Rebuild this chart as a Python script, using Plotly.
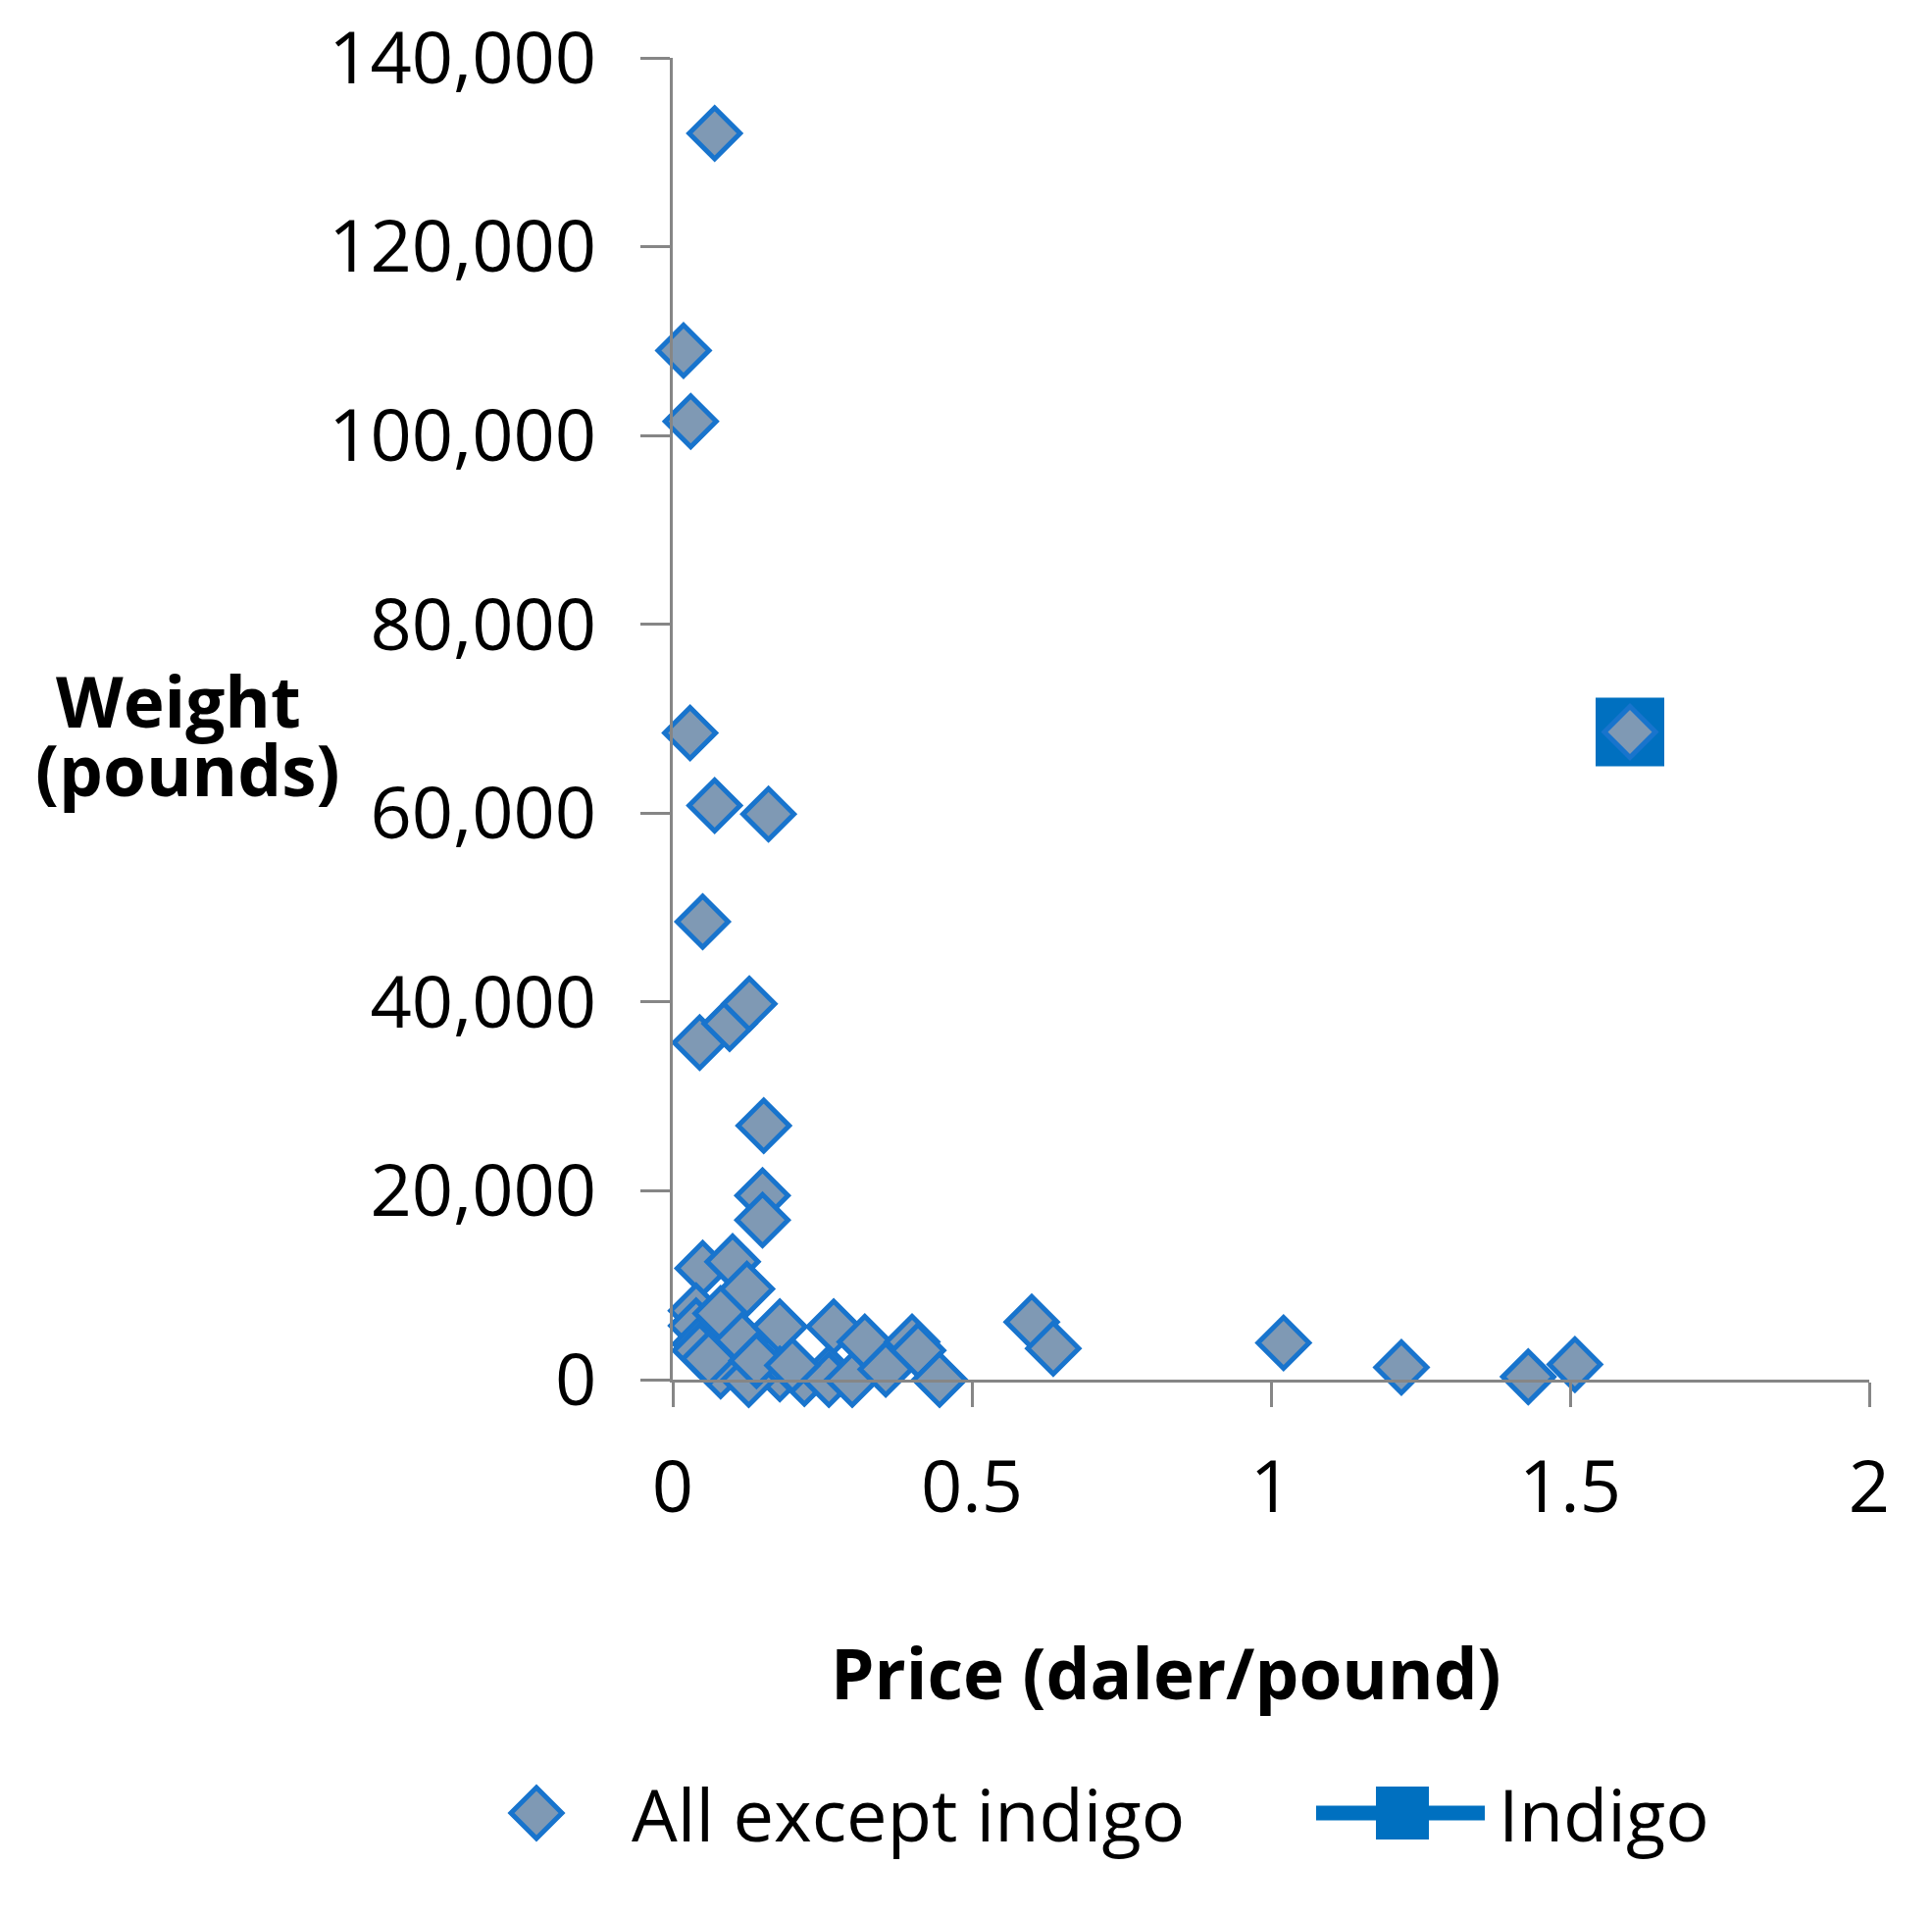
import plotly.graph_objects as go

# Data: price (daler/pound) and weight (pounds)
price_all = [0.070, 0.018, 0.030, 0.029, 0.070, 0.160, 0.050, 0.045, 0.095, 0.128,
             0.152, 0.150, 0.150, 0.050, 0.100, 0.124, 0.039, 0.039, 0.045, 0.045,
             0.080, 0.080, 0.116, 0.179, 0.179, 0.220, 0.269, 0.261, 0.261, 0.300,
             0.321, 0.356, 0.400, 0.410, 0.446, 0.127, 0.060, 0.140, 0.200, 0.600,
             0.636, 1.021, 1.218, 1.430, 1.508, 1.600]
weight_all = [132000, 109000, 101500, 68500, 60800, 59900, 48500, 35700, 37700, 39800,
              26900, 19500, 16900, 11800, 12500, 9600, 7300, 5700, 3800, 3100,
              7000, 900, 4200, 5600, 600, 100, 5600, 700, 0, 0,
              4000, 1100, 4000, 3100, 0, 0, 2200, 2000, 1500, 6100,
              3300, 3900, 1300, 300, 1600, 68600]

price_indigo = [1.600]
weight_indigo = [68600]

series_names = ["All except indigo", "Indigo"]

x_ticks = [0, 0.5, 1, 1.5, 2]
x_tick_labels = ["0", "0.5", "1", "1.5", "2"]
y_ticks = [0, 20000, 40000, 60000, 80000, 100000, 120000, 140000]
y_tick_labels = ["0", "20,000", "40,000", "60,000", "80,000", "100,000", "120,000", "140,000"]

FONT = "Open Sans"
AXIS_GRAY = "#868686"
FILL = "#7F99B4"
EDGE = "#1874CD"
INDIGO = "#0070C0"

# plot area in page pixels (used to place legend / titles)
PX0, PX1, PY0, PY1 = 686, 1906, 59, 1407


def px(x):
    return (x - PX0) / (PX1 - PX0)


def py(y):
    return (PY1 - y) / (PY1 - PY0)


fig = go.Figure()

fig.add_trace(go.Scatter(
    x=price_indigo, y=weight_indigo, mode="lines+markers", name=series_names[1],
    marker=dict(symbol="square", size=70, color=INDIGO),
    line=dict(color=INDIGO, width=12),
    cliponaxis=False, showlegend=False,
))

fig.add_trace(go.Scatter(
    x=price_all, y=weight_all, mode="markers", name=series_names[0],
    marker=dict(symbol="diamond", size=40, color=FILL,
                line=dict(color=EDGE, width=5)),
    cliponaxis=False, showlegend=False,
))

# Legend keys drawn as paper-referenced shapes
LEG_Y = 1849
DX, DY = 547, LEG_Y          # diamond key centre
R = 26                        # diamond half-diagonal (px)
SQX, SQ = 1430, 27            # square key centre / half side
diamond_path = "M {},{} L {},{} L {},{} L {},{} Z".format(
    px(DX), py(DY - R), px(DX + R), py(DY), px(DX), py(DY + R), px(DX - R), py(DY))

fig.update_layout(
    width=1970, height=1953,
    paper_bgcolor="white", plot_bgcolor="white",
    margin=dict(l=678, r=72, t=51, b=554),
    font=dict(family=FONT, size=74, color="black"),
    showlegend=False,
    xaxis=dict(range=[0, 2], tickvals=x_ticks, ticktext=x_tick_labels,
               showgrid=False, zeroline=False, showline=True, linecolor=AXIS_GRAY,
               linewidth=3, ticks="outside", ticklen=25, tickwidth=3, tickcolor=AXIS_GRAY,
               tickfont=dict(size=74, family=FONT), ticklabelstandoff=18,
               ticklabeloverflow="allow", automargin=False),
    yaxis=dict(range=[0, 140000], tickvals=y_ticks, ticktext=y_tick_labels,
               showgrid=False, zeroline=False, showline=True, linecolor=AXIS_GRAY,
               linewidth=3, ticks="outside", ticklen=30, tickwidth=3, tickcolor=AXIS_GRAY,
               tickfont=dict(size=74, family=FONT), ticklabelstandoff=30,
               ticklabeloverflow="allow", automargin=False),
    shapes=[
        dict(type="line", xref="paper", yref="paper",
             x0=px(1342), x1=px(1514), y0=py(LEG_Y), y1=py(LEG_Y),
             line=dict(color=INDIGO, width=15)),
        dict(type="rect", xref="paper", yref="paper",
             x0=px(SQX - SQ), x1=px(SQX + SQ), y0=py(LEG_Y + SQ), y1=py(LEG_Y - SQ),
             fillcolor=INDIGO, line=dict(width=0)),
        dict(type="path", xref="paper", yref="paper", path=diamond_path,
             fillcolor=FILL, line=dict(color=EDGE, width=5)),
    ],
    annotations=[
        dict(text="<b>Price (daler/pound)</b>", xref="paper", yref="paper",
             x=px(1189), y=py(1705), showarrow=False,
             xanchor="center", yanchor="middle", font=dict(size=71, family=FONT)),
        dict(text="<b>Weight</b>", xref="paper", yref="paper",
             x=px(182), y=py(714), showarrow=False,
             xanchor="center", yanchor="middle", font=dict(size=71, family=FONT)),
        dict(text="<b>(pounds)</b>", xref="paper", yref="paper",
             x=px(191), y=py(784), showarrow=False,
             xanchor="center", yanchor="middle", font=dict(size=71, family=FONT)),
        dict(text=series_names[0], xref="paper", yref="paper",
             x=px(642), y=py(LEG_Y), showarrow=False,
             xanchor="left", yanchor="middle", font=dict(size=74, family=FONT)),
        dict(text=series_names[1], xref="paper", yref="paper",
             x=px(1526), y=py(LEG_Y), showarrow=False,
             xanchor="left", yanchor="middle", font=dict(size=74, family=FONT)),
    ],
)

fig.write_html("out.html")
